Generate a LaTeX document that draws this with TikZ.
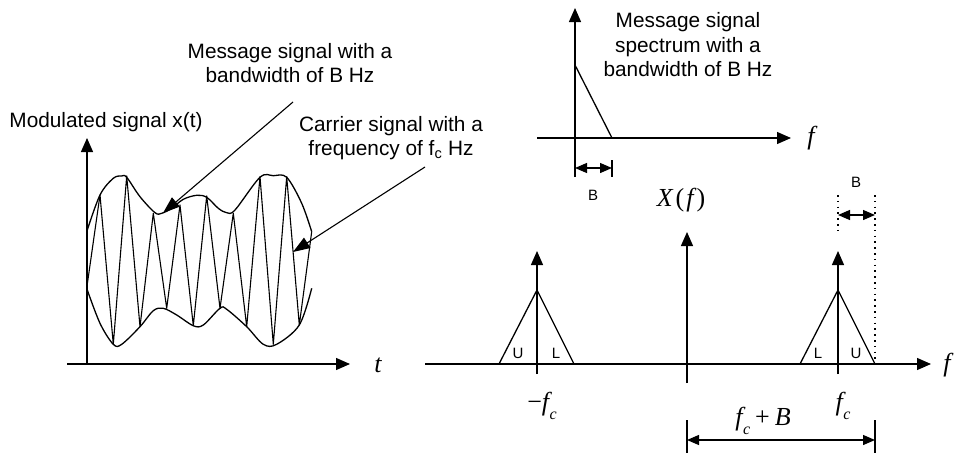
\documentclass[tikz,border=0pt]{standalone}
\usepackage{fontspec}
\setmainfont{Liberation Sans}
\newfontfamily\seriffont{Liberation Serif}
\usetikzlibrary{arrows.meta}
\newcommand\fsub[1]{\textit{f}\kern0.5pt\raisebox{-0.32em}{\fontsize{16}{16}\selectfont\textit{#1}}}
\begin{document}
\begin{tikzpicture}[x=1pt,y=-1pt,
  line width=1.3pt, line join=round,
  axis/.style={-{Triangle[length=14pt,width=12pt]}},
  pointer/.style={line width=1.1pt,-{Triangle[length=17pt,width=12pt]}},
  dimarr/.style={line width=1.3pt,{Triangle[length=12pt,width=10pt]}-{Triangle[length=12pt,width=10pt]}},
  lbl/.style={font=\fontsize{20.8}{24.5}\selectfont, align=center, inner sep=0pt},
  small/.style={font=\fontsize{15}{17}\selectfont, inner sep=0pt},
  mth/.style={font=\fontsize{26}{28}\selectfont\seriffont\itshape, inner sep=0pt},
  dots/.style={line width=1.3pt, dash pattern=on 1.6pt off 4.2pt},
  env/.style={line width=1.3pt},
  carrier/.style={line width=1.1pt},
]
\useasboundingbox (0,0) rectangle (956,455);

% ---------------- left: modulated signal ----------------
\coordinate (o1) at (87,364);
\coordinate (t0) at (67,364);
\coordinate (tt) at (350,364);
\coordinate (yt) at (87,138);
\draw[axis] (t0) -- (tt);
\draw[axis] (o1) -- (yt);
\node[mth] (tlab) at (378,365) {t};
\node[lbl] (modlab) at (106,122) {Modulated signal x(t)};

% upper envelope
\draw[env] plot[smooth, tension=0.55] coordinates {
 (86.7,231.7) (100,195) (113.3,178.3) (121.7,176) (126.7,177.3) (140,196.7)
 (155,212.7) (161.7,213.3) (171.7,208.3) (183.3,199.3) (196.7,195.3) (206.7,197.3)
 (218.3,208.3) (226.7,212.7) (235,210) (260,177.3) (273.3,175.7) (286.7,177.3)
 (301.7,203.3) (311.7,231.7)};
% lower envelope
\draw[env] plot[smooth, tension=0.55] coordinates {
 (86.7,288.3) (100,323.3) (113.3,344.3) (121.7,344.3) (140,326.7) (153.3,310.7)
 (163.3,308.3) (176.7,315) (193.3,325.7) (203.3,325) (220,308.3) (226.7,309.3)
 (246.7,326.7) (263.3,344.3) (276.7,344.3) (299.3,325) (311.7,288.3)};
% carrier zigzag
\draw[carrier] (86.7,288.3) -- (100,195) -- (113.3,344.3) -- (126.7,176) -- (140,326.7)
 -- (153.3,213.3) -- (166.7,308.3) -- (180,205) -- (193.3,325.7) -- (206.7,196)
 -- (220,308.3) -- (233.3,213.3) -- (246.7,326.7) -- (260,176.7) -- (273.3,344.3)
 -- (286.7,176.7) -- (299.3,325) -- (311.7,231.7);

\node[lbl] (msglab) at (290,63) {Message signal with a\\bandwidth of B Hz};
\node[lbl] (carlab) at (391,138) {Carrier signal with a\\frequency of f\textsubscript{c} Hz};
\coordinate (msgfrom) at (293,102);
\coordinate (msgto) at (163,213);
\coordinate (carfrom) at (425,167);
\coordinate (carto) at (293,252);
\draw[pointer] (msgfrom) -- (msgto);
\draw[pointer] (carfrom) -- (carto);

% ---------------- top right: message spectrum ----------------
\coordinate (o2) at (575,138);
\coordinate (o2b) at (575,177);
\coordinate (o2t) at (575,8);
\coordinate (f0) at (537,138);
\coordinate (ft) at (791,138);
\draw[axis] (f0) -- (ft);
\draw[axis] (o2b) -- (o2t);
\coordinate (sp1) at (575,65);
\coordinate (sp2) at (612,138);
\draw (sp1) -- (sp2);
\coordinate (bt1) at (612,160);
\coordinate (bt2) at (612,177);
\draw (bt1) -- (bt2);
\coordinate (ba1) at (575,168);
\coordinate (ba2) at (612,168);
\draw[dimarr] (ba1) -- (ba2);
\node[small] (blab1) at (593,195) {B};
\node[mth] (flab1) at (811,138) {f};
\node[lbl] (speclab) at (688,45) {Message signal\\spectrum with a\\bandwidth of B Hz};

% ---------------- bottom right: modulated spectrum ----------------
\coordinate (g0) at (425,364);
\coordinate (gt) at (931,364);
\draw[axis] (g0) -- (gt);
\node[mth] (flab2) at (947,365) {f};
\coordinate (cb) at (687,383);
\coordinate (ct) at (687,232);
\draw[axis] (cb) -- (ct);
\node[mth] (Xlab) at (681,200) {X\kern3pt{\upshape(}\kern2pt f\kern3pt{\upshape)}};

% left spike
\coordinate (lb) at (537,374);
\coordinate (lt) at (537,251);
\draw[axis] (lb) -- (lt);
\draw (499,364) -- (537,290) -- (574,364);
\node[small] (u1) at (518,353) {U};
\node[small] (l1) at (556,353) {L};
\node[mth] (mfc) at (542,406) {{\upshape −}\fsub{c}};

% right spike
\coordinate (rb) at (838,374);
\coordinate (rt) at (838,251);
\draw[axis] (rb) -- (rt);
\draw (800,364) -- (838,290) -- (875,364);
\node[small] (l2) at (818,353) {L};
\node[small] (u2) at (856,353) {U};
\node[mth] (pfc) at (843,406) {\fsub{c}};

% dotted B marker
\coordinate (d1t) at (838,195);
\coordinate (d1b) at (838,234);
\coordinate (d2t) at (875,195);
\coordinate (d2b) at (875,362);
\draw[dots] (d1t) -- (d1b);
\draw[dots] (d2t) -- (d2b);
\coordinate (bb1) at (838,215);
\coordinate (bb2) at (875,215);
\draw[dimarr] (bb1) -- (bb2);
\node[small] (blab2) at (856,182) {B};

% fc + B dimension
\coordinate (k1t) at (687,420);
\coordinate (k1b) at (687,453);
\coordinate (k2t) at (875,420);
\coordinate (k2b) at (875,453);
\draw (k1t) -- (k1b);
\draw (k2t) -- (k2b);
\coordinate (ka1) at (687,440);
\coordinate (ka2) at (875,440);
\draw[dimarr] (ka1) -- (ka2);
\node[mth] (fcB) at (763,421) {\fsub{c}\kern5pt{\upshape+}\kern5pt B};
\end{tikzpicture}
\end{document}
